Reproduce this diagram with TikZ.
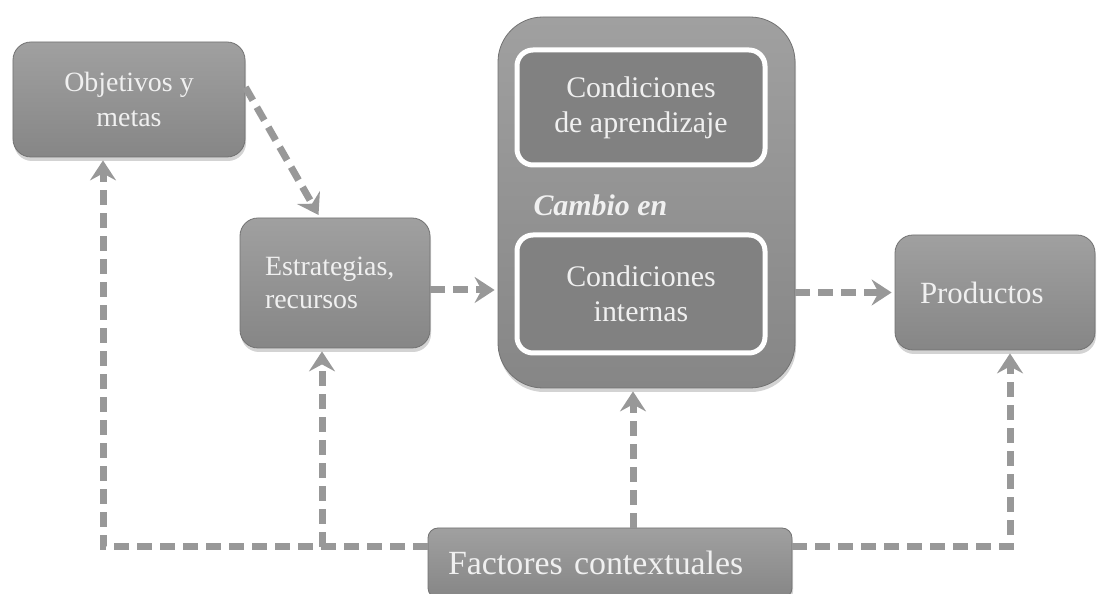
\documentclass[tikz,border=0pt]{standalone}
\usepackage{fontspec}
\setmainfont{Liberation Serif}
\usetikzlibrary{arrows.meta,shadows}
\definecolor{boxfill}{RGB}{134,134,134}
\definecolor{boxtop}{RGB}{160,160,160}
\definecolor{linecol}{RGB}{152,152,152}
\definecolor{txtcol}{RGB}{240,240,240}

\begin{document}
\begin{tikzpicture}[x=1bp,y=1bp,
  >={Stealth[length=20bp,width=26bp,inset=7bp]},
  box/.style={rectangle,rounded corners=18bp,top color=boxtop,bottom color=boxfill,
    draw=boxfill!85!black,line width=0.8bp,text=txtcol,inner sep=0pt,
    drop shadow={opacity=0.35,shadow xshift=1bp,shadow yshift=-4bp}},
  inbox/.style={rectangle,rounded corners=16bp,fill=boxfill!96!black,draw=white,
    line width=5bp,text=txtcol,align=center,inner sep=0pt,
    minimum width=248bp,font=\fontsize{30}{35}\selectfont},
  conn/.style={draw=linecol,line width=7bp,dash pattern=on 15bp off 8bp,->,shorten >=3bp}]
  \useasboundingbox (0,0) rectangle (1097,594);
%%
  % Node: obj
  \node[box,minimum width=232bp,minimum height=115bp,align=center,
    font=\fontsize{28}{35}\selectfont] (obj) at (129,494.5) {Objetivos y\\metas};
  % Node: estr
  \node[box,text width=140bp,inner xsep=25bp,minimum height=130bp,align=left,
    font=\fontsize{28}{33}\selectfont] (estr) at (335,311) {Estrategias,\\recursos};
  % Node: cambio
  \node[box,rounded corners=45bp,minimum width=297bp,minimum height=371bp] (cambio) at (646.5,391.5) {};
  \node[inbox,minimum height=115bp] (condapr) at (641,486.5) {Condiciones\\de aprendizaje};
  \node[inbox,minimum height=118bp] (condint) at (641,300) {Condiciones\\internas};
  \node[anchor=west,text=txtcol,font=\fontsize{30}{35}\selectfont\bfseries\itshape] (cambiotxt) at (530,389) {Cambio en};
  % Node: prod
  \node[box,text width=150bp,inner xsep=25bp,minimum height=115bp,align=left,
    font=\fontsize{31}{36}\selectfont] (prod) at (995,301.5) {Productos};
  % Node: fact
  \node[box,rounded corners=10bp,text width=324bp,inner xsep=20bp,minimum height=70bp,align=left,
    font=\fontsize{34}{40}\selectfont] (fact) at (610,31) {Factores contextuales};
%%
  \coordinate (lcorner) at (103,47);
  \coordinate (ljoin) at (322,47);
  \coordinate (rcorner) at (1010,47);
  \coordinate (eout) at ([yshift=-7bp]estr.east);
  \coordinate (fup) at ([xshift=23bp]fact.north);
  % Edge: obj -> estr
  \draw[conn] (obj.6) -- ([xshift=-15bp]estr.north);
  % Edge: estr -> cambio
  \draw[conn] (eout) -- (eout -| cambio.west);
  % Edge: cambio -> prod
  \draw[conn] (cambio.east |- prod.west) -- (prod.west);
  % Edge: fact -> cambio
  \draw[conn] (fup) -- (fup |- cambio.south);
  % Edge: fact -> obj, fact -> estr
  \draw[conn] (fact.west |- lcorner) -- (lcorner) -- (lcorner |- obj.south);
  \draw[conn] (ljoin) -- (ljoin |- estr.south);
  % Edge: fact -> prod
  \draw[conn] (fact.east |- rcorner) -- (rcorner) -- (rcorner |- prod.south);
%
\end{tikzpicture}
\end{document}
